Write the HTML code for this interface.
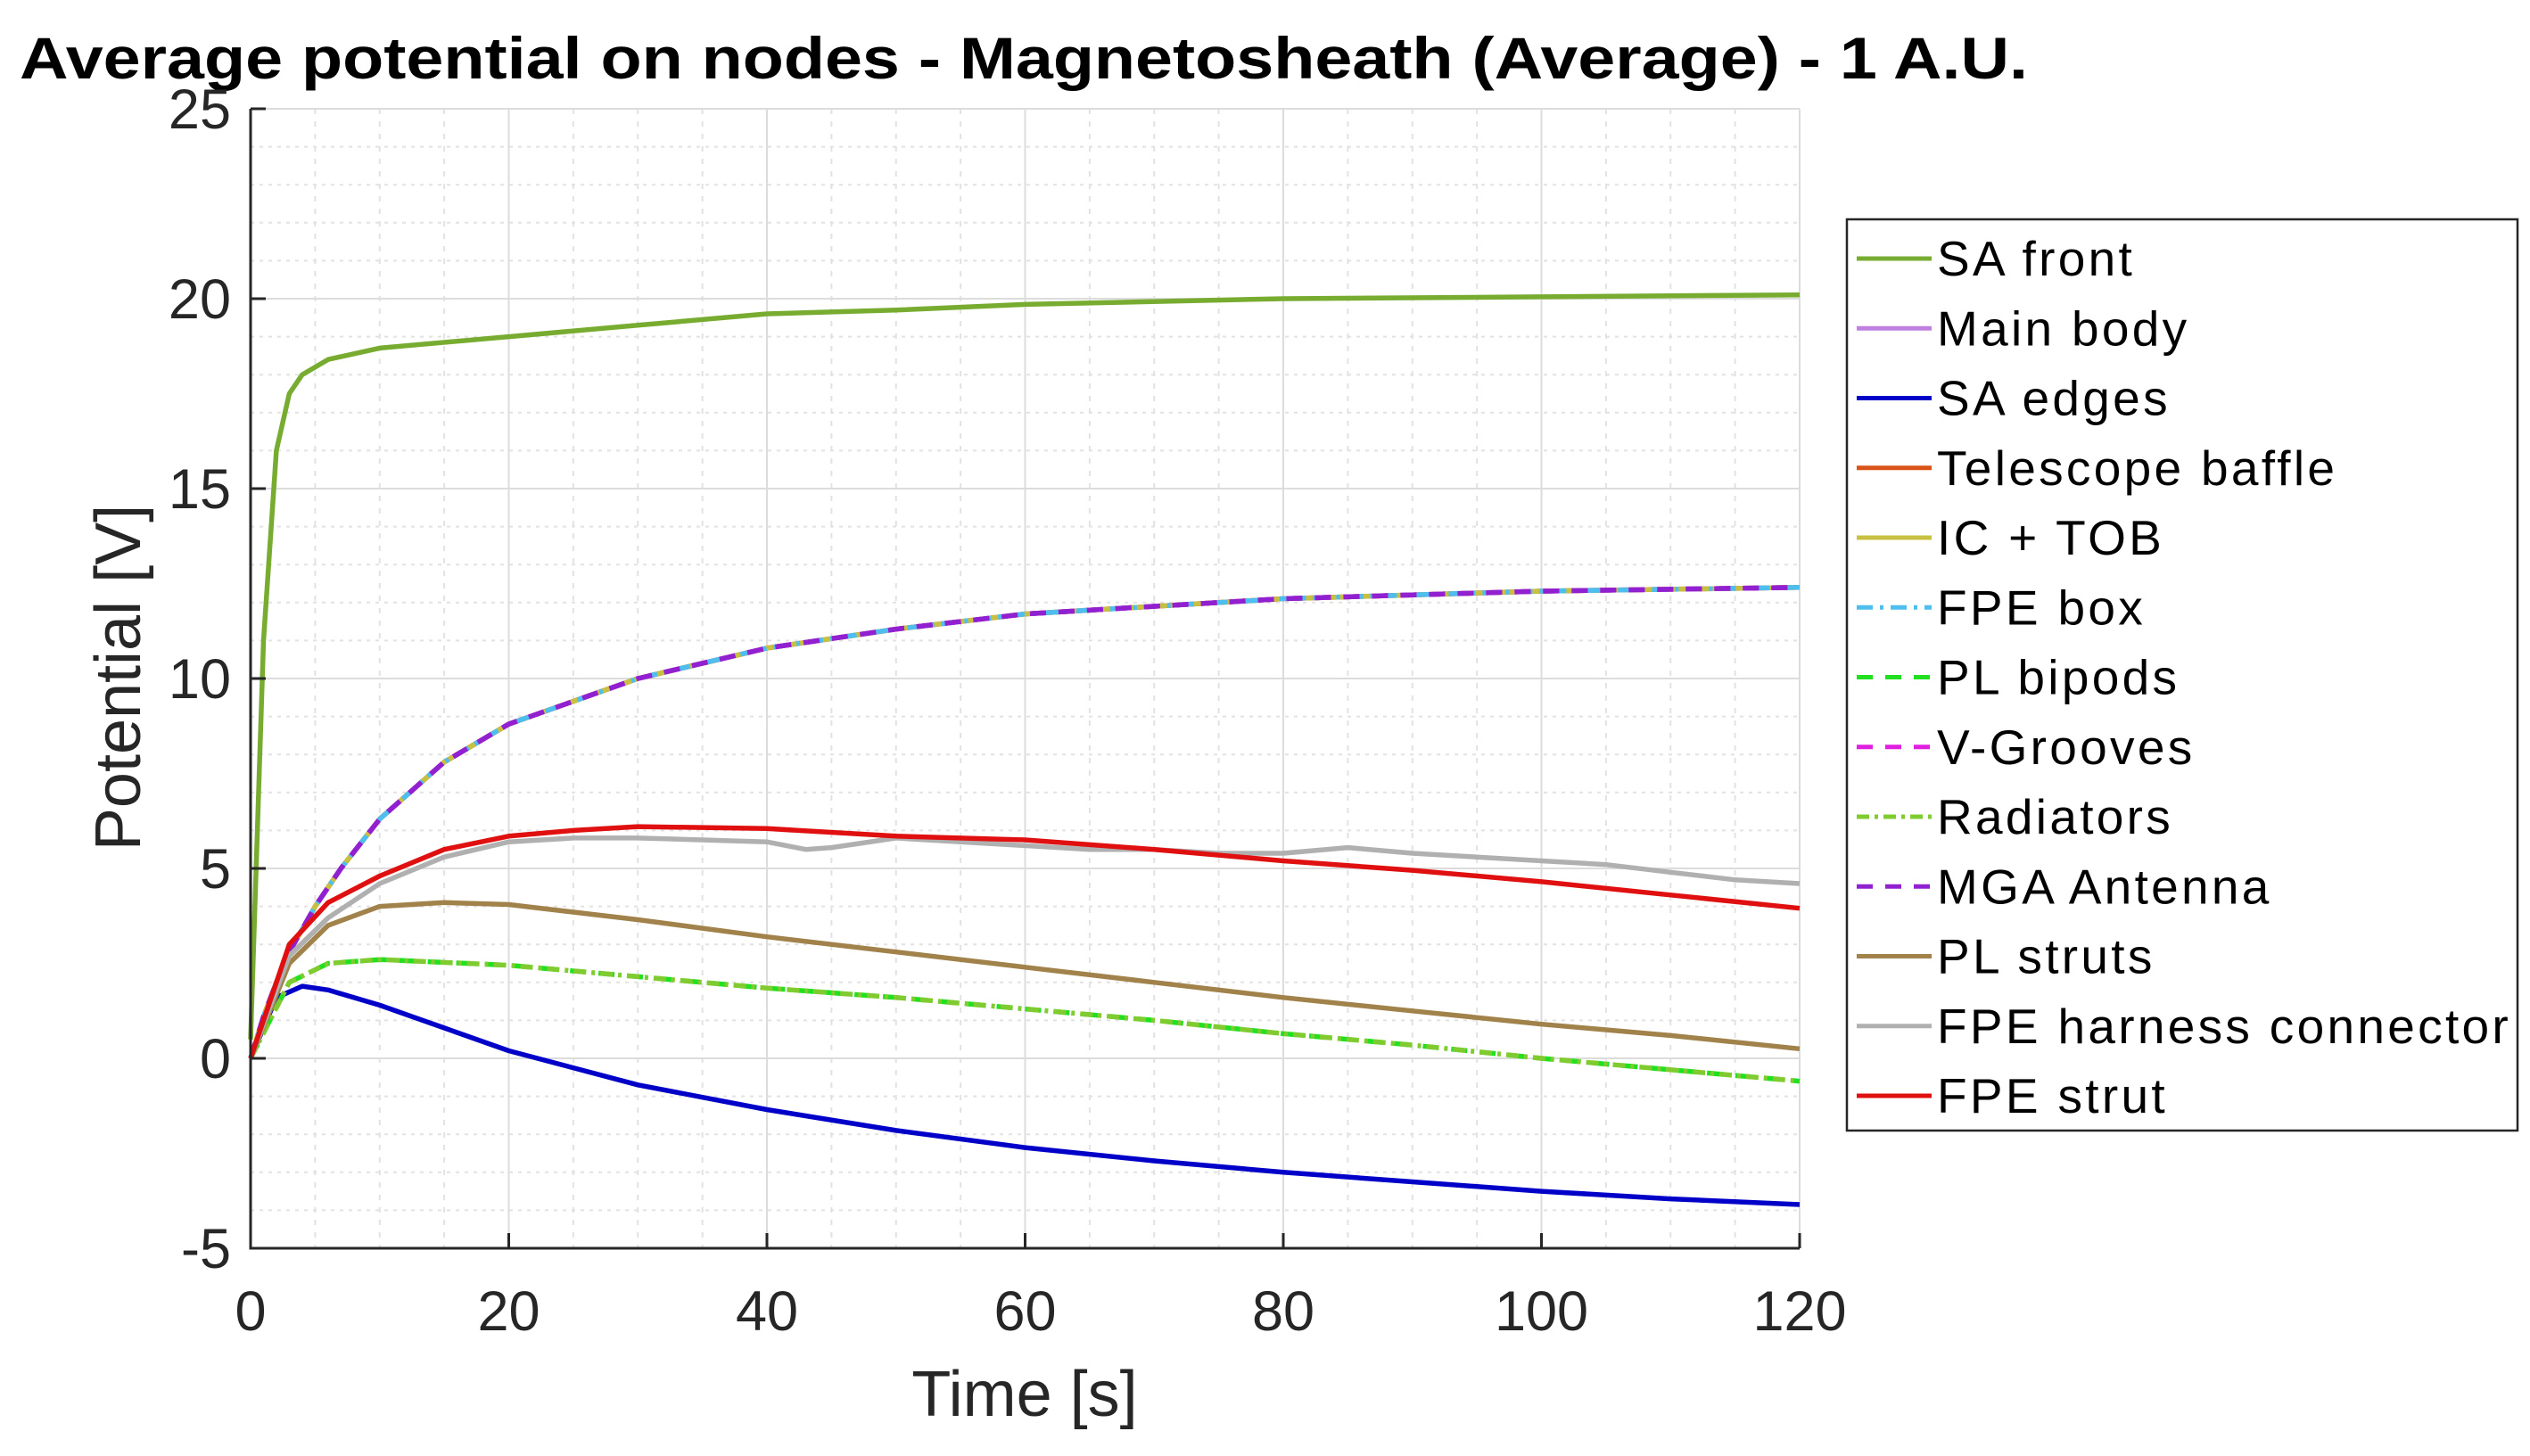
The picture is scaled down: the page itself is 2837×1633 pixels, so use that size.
<!DOCTYPE html>
<html><head><meta charset="utf-8">
<style>
html,body{margin:0;padding:0;background:#fff;}
svg{display:block;font-family:"Liberation Sans",Arial,sans-serif;}
</style></head>
<body>
<svg id="chart" width="2837" height="1633" viewBox="0 0 2837 1633" xmlns="http://www.w3.org/2000/svg">
<text x="22" y="88" font-size="66" font-weight="bold" fill="#000" textLength="2252" lengthAdjust="spacingAndGlyphs">Average potential on nodes - Magnetosheath (Average) - 1 A.U.</text>
<g id="grid"></g>
<g id="series"></g>
<g id="axes"></g>
<text x="1149" y="1588" font-size="72" fill="#262626" text-anchor="middle">Time [s]</text>
<text x="0" y="0" font-size="72" fill="#262626" text-anchor="middle" transform="translate(157,760) rotate(-90)">Potential [V]</text>
<g id="legend"></g>
</svg>
<script>
const xTicks = [0,20,40,60,80,100,120];
const yTicks = [-5,0,5,10,15,20,25];
const seriesNames = ["SA front","Main body","SA edges","Telescope baffle","IC + TOB","FPE box","PL bipods","V-Grooves","Radiators","MGA Antenna","PL struts","FPE harness connector","FPE strut"];
const seriesColors = ["#77ac30","#c080e0","#0000c8","#d95319","#c8c040","#4dbeee","#20e020","#e020e0","#80cc30","#9020d0","#a0824a","#b0b0b0","#e01010"];
const seriesDash = ["","","","","","18 8 4 8","18 14","18 14","14 6 4 6","18 14","","",""];

const tFront = [0,1,2,3,4,6,10,20,30,40,50,60,80,100,120];
const vFront = [0.5,11,16,17.5,18,18.4,18.7,19,19.3,19.6,19.7,19.85,20,20.05,20.1];
const tBody = [0,1,2,3,5,7,10,15,20,30,40,50,60,80,100,120];
const vBody = [0,1.1,2,2.8,4,5,6.3,7.8,8.8,10,10.8,11.3,11.7,12.1,12.3,12.4];
const tEdges = [0,2,4,6,10,15,20,30,40,50,60,70,80,90,100,110,120];
const vEdges = [0,1.6,1.9,1.8,1.4,0.8,0.2,-0.7,-1.35,-1.9,-2.35,-2.7,-3.0,-3.25,-3.5,-3.7,-3.85];
const tRad = [0,3,6,10,20,30,40,50,60,70,80,90,100,110,120];
const vRad = [0,2,2.5,2.6,2.45,2.15,1.85,1.6,1.3,1.0,0.65,0.35,0.0,-0.3,-0.6];
const tStruts = [0,3,6,10,15,20,30,40,50,60,70,80,90,100,110,120];
const vStruts = [0,2.5,3.5,4.0,4.1,4.05,3.65,3.2,2.8,2.4,2.0,1.6,1.25,0.9,0.6,0.25];
const tStrut = [0,3,6,10,15,20,25,30,40,50,60,70,80,90,100,110,120];
const vStrut = [0,3,4.1,4.8,5.5,5.85,6.0,6.1,6.05,5.85,5.75,5.5,5.2,4.95,4.65,4.3,3.95];
const tHarn = [0,3,6,10,15,20,25,30,35,40,43,45,50,55,60,65,70,75,80,85,90,95,100,105,110,115,120];
const vHarn = [0,2.7,3.7,4.6,5.3,5.7,5.8,5.8,5.75,5.7,5.5,5.55,5.8,5.7,5.6,5.5,5.5,5.4,5.4,5.55,5.4,5.3,5.2,5.1,4.9,4.7,4.6];

const L=281,R=2018,T=122,B=1400;
const xMin=0,xMax=120,yMin=-5,yMax=25;
const X=t=>L+(t-xMin)/(xMax-xMin)*(R-L);
const Y=v=>B-(v-yMin)/(yMax-yMin)*(B-T);
const NS="http://www.w3.org/2000/svg";
function mk(tag,attrs,parent){const e=document.createElementNS(NS,tag);for(const k in attrs)e.setAttribute(k,attrs[k]);parent.appendChild(e);return e;}

const grid=document.getElementById('grid');
for(let t=xMin;t<=xMax;t+=5){
  const major=t%20===0;
  const ln=mk('line',{x1:X(t),x2:X(t),y1:T,y2:B,stroke:major?'#dcdcdc':'#e2e2e2','stroke-width':2,'stroke-dasharray':major?'':'6 8'},grid);
  
  
}
for(let v=yMin;v<=yMax;v+=1){
  const major=v%5===0;
  const ln=mk('line',{x1:L,x2:R,y1:Y(v),y2:Y(v),stroke:major?'#dcdcdc':'#e2e2e2','stroke-width':2,'stroke-dasharray':major?'':'4 6'},grid);
  
  
}

const seriesData = [
  [tFront,vFront],[tBody,vBody],[tEdges,vEdges],[tBody,vBody],[tBody,vBody],[tBody,vBody],
  [tRad,vRad],[tBody,vBody],[tRad,vRad],[tBody,vBody],[tStruts,vStruts],[tHarn,vHarn],[tStrut,vStrut]
];
const drawOrder=[0,1,3,4,2,6,5,7,9,8,10,11,12];
const sg=document.getElementById('series');
drawOrder.forEach(i=>{
  const [ts,vs]=seriesData[i];
  const pts=ts.map((t,k)=>X(t).toFixed(1)+','+Y(vs[k]).toFixed(1)).join(' ');
  const p=mk('polyline',{points:pts,fill:'none',stroke:seriesColors[i],'stroke-width':5.5,'stroke-linejoin':'round','stroke-dasharray':seriesDash[i]},sg);
  
  
});

const ax=document.getElementById('axes');
const la=mk('path',{d:`M${L},${T} L${L},${B} L${R},${B}`,fill:'none',stroke:'#262626','stroke-width':3},ax);


xTicks.forEach(t=>{
  const tk=mk('line',{x1:X(t),x2:X(t),y1:B,y2:B-17,stroke:'#262626','stroke-width':3},ax);
  
  
  const tx=mk('text',{x:X(t),y:1492,'font-size':63,fill:'#262626','text-anchor':'middle'},ax);
  tx.textContent=t;
  
  
});
yTicks.forEach(v=>{
  const tk=mk('line',{x1:L,x2:L+17,y1:Y(v),y2:Y(v),stroke:'#262626','stroke-width':3},ax);
  
  
  const tx=mk('text',{x:259,y:Y(v)+22,'font-size':63,fill:'#262626','text-anchor':'end'},ax);
  tx.textContent=v;
  
  
});

const lg=document.getElementById('legend');
const box=mk('rect',{x:2071,y:246,width:752,height:1022,fill:'#fff',stroke:'#262626','stroke-width':2.5},lg);


seriesNames.forEach((n,i)=>{
  const y=290+i*78.25;
  const g=mk('g',{},lg);
  
  
  mk('line',{x1:2082,x2:2166,y1:y,y2:y,stroke:seriesColors[i],'stroke-width':5,'stroke-dasharray':seriesDash[i]},g);
  const tx=mk('text',{x:2172,y:y+19,'font-size':55,fill:'#000','letter-spacing':3.3},g);
  tx.textContent=n;
});
</script>
</body></html>
